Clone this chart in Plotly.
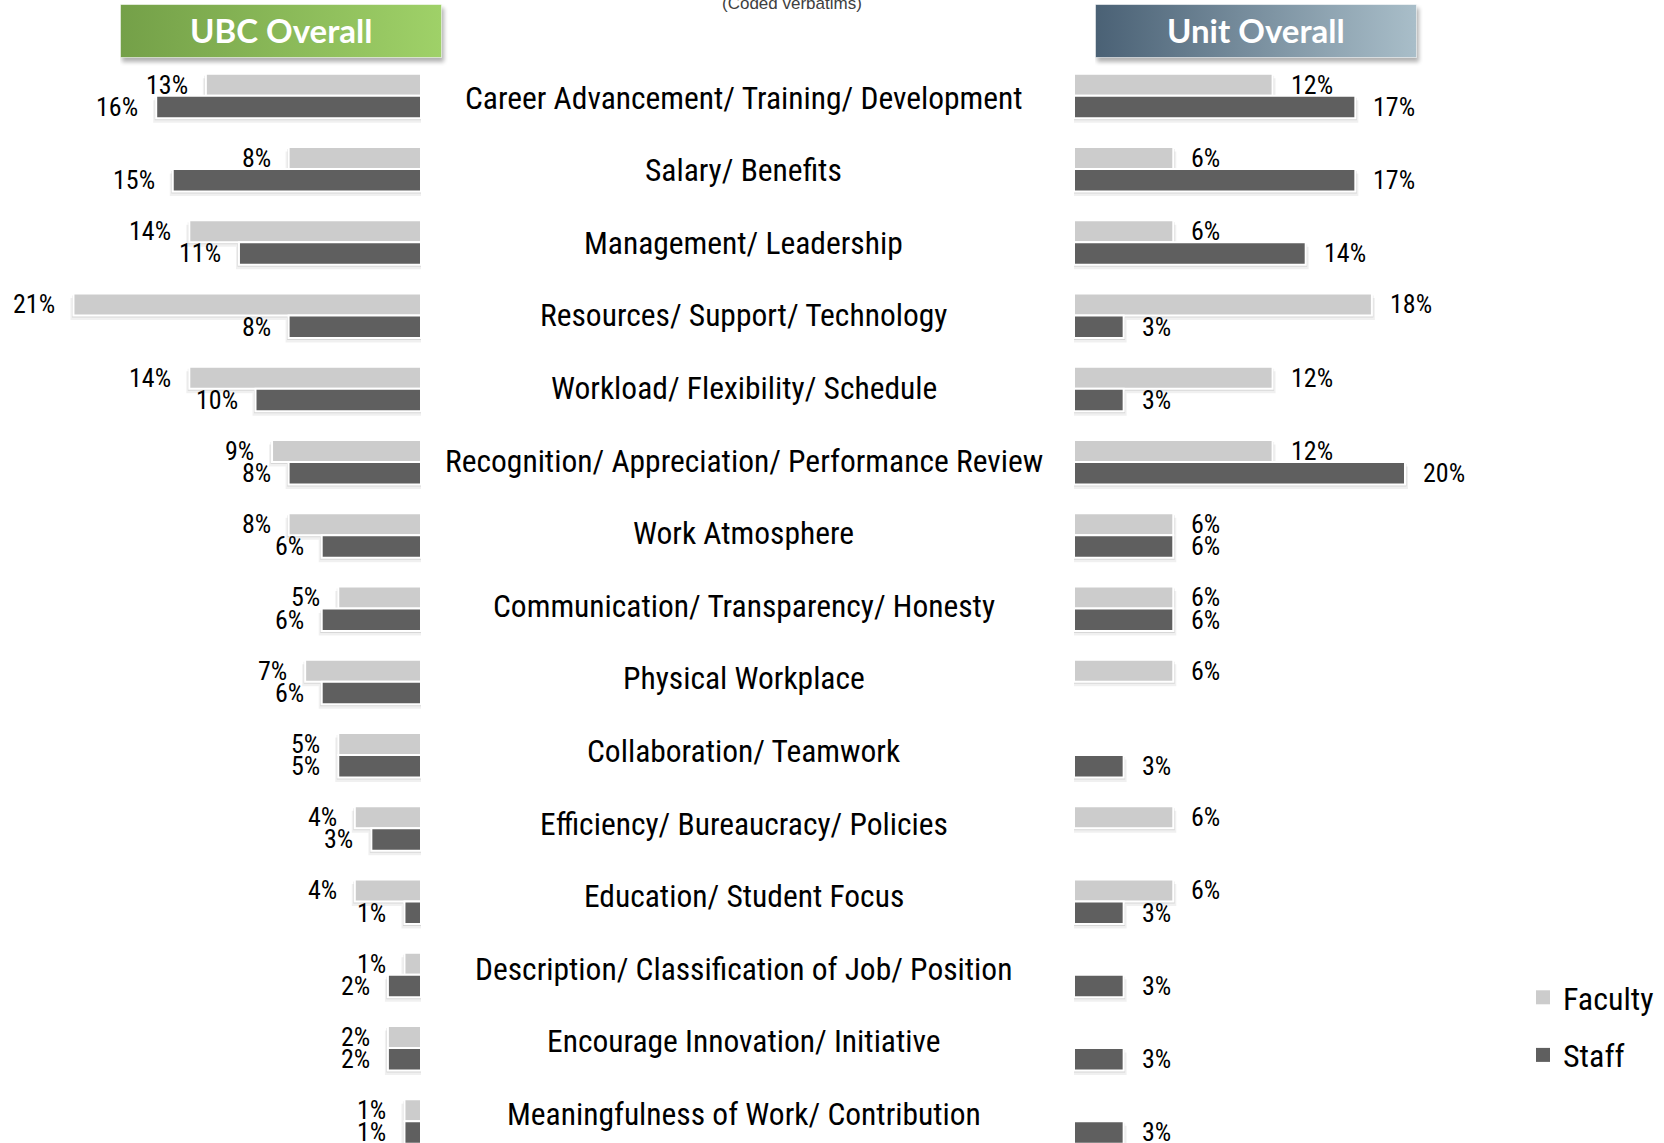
import base64
import plotly.graph_objects as go

# ---- data -------------------------------------------------------------
categories = [
    "Career Advancement/ Training/ Development",
    "Salary/ Benefits",
    "Management/ Leadership",
    "Resources/ Support/ Technology",
    "Workload/ Flexibility/ Schedule",
    "Recognition/ Appreciation/ Performance Review",
    "Work Atmosphere",
    "Communication/ Transparency/ Honesty",
    "Physical Workplace",
    "Collaboration/ Teamwork",
    "Efficiency/ Bureaucracy/ Policies",
    "Education/ Student Focus",
    "Description/ Classification of Job/ Position",
    "Encourage Innovation/ Initiative",
    "Meaningfulness of Work/ Contribution",
]
ubc_faculty = [13, 8, 14, 21, 14, 9, 8, 5, 7, 5, 4, 4, 1, 2, 1]
ubc_staff = [16, 15, 11, 8, 10, 8, 6, 6, 6, 5, 3, 1, 2, 2, 1]
unit_faculty = [12, 6, 6, 18, 12, 12, 6, 6, 6, None, 6, 6, None, None, None]
unit_staff = [17, 17, 14, 3, 3, 20, 6, 6, None, 3, None, 3, 3, 3, 3]

series_names = ["Faculty", "Staff"]
series_colors = ["#cccccc", "#5f5f5f"]
panel_titles = ["UBC Overall", "Unit Overall"]
subtitle = "(Coded verbatims)"

# ---- geometry -----------------------------------------------------------
W, H = 1664, 1143
PX_PER_PCT = 16.55
ROW_PX = 73.25
ROW0_PX = 96
LABEL_PITCH_PX = 72.6      # the centre labels sit on a slightly tighter pitch
LEFT_ZERO_PX = 421
RIGHT_ZERO_PX = 1074
LABEL_CENTER_PX = 743.5

NARROW = "Liberation Sans Narrow, Arial Narrow, Roboto Condensed, DejaVu Sans Condensed, sans-serif"

# bar slot within each category row (category units): offset, width
slots = [(-0.305, 0.300), (-0.004, 0.308)]

fig = go.Figure()

panels = [
    dict(xaxis="x", values=[ubc_faculty, ubc_staff], side="left"),
    dict(xaxis="x2", values=[unit_faculty, unit_staff], side="right"),
]

shadow_layers = [(2.0, 1.5, "rgba(0,0,0,0.10)"), (4.5, 3.0, "rgba(0,0,0,0.06)")]

annotations = []
for p in panels:
    # soft drop shadows under the bars
    for dy_px, ext_px, col in shadow_layers:
        ext = ext_px / PX_PER_PCT
        for (off, wid), vals in zip(slots, p["values"]):
            fig.add_trace(go.Bar(
                y=categories,
                x=[None if v is None else v + 2 * ext for v in vals],
                base=-ext,
                orientation="h",
                offset=off + dy_px / ROW_PX,
                width=wid,
                marker=dict(color=col, line=dict(width=0)),
                xaxis=p["xaxis"], yaxis="y",
                showlegend=False, hoverinfo="skip",
            ))
    # the bars themselves
    for k, ((off, wid), vals) in enumerate(zip(slots, p["values"])):
        fig.add_trace(go.Bar(
            y=categories,
            x=vals,
            orientation="h",
            offset=off,
            width=wid,
            name=series_names[k],
            legendgroup=series_names[k],
            showlegend=False,
            marker=dict(color=series_colors[k], line=dict(color="white", width=2)),
            xaxis=p["xaxis"], yaxis="y",
            hovertemplate="%{y}: %{x}%<extra>" + series_names[k] + "</extra>",
        ))
        # value labels just beyond the bar ends
        for i, v in enumerate(vals):
            if v is None:
                continue
            annotations.append(dict(
                x=v, y=i + off + wid / 2,
                xref=p["xaxis"], yref="y",
                text=f"{v}%", showarrow=False,
                xanchor="right" if p["side"] == "left" else "left",
                yanchor="middle",
                xshift=-16 if p["side"] == "left" else 16,
                font=dict(family=NARROW, size=26, color="#000000"),
            ))

# legend keys: plain squares for each series
for k, name in enumerate(series_names):
    fig.add_trace(go.Scatter(
        x=[None], y=[None], mode="markers", name=name, legendgroup=name,
        marker=dict(symbol="square", size=14, color=series_colors[k]),
        xaxis="x2", yaxis="y", showlegend=True, hoverinfo="skip",
    ))

# category names down the middle
for i, c in enumerate(categories):
    annotations.append(dict(
        x=LABEL_CENTER_PX / W, y=i, xref="paper", yref="y",
        text=c, showarrow=False, xanchor="center", yanchor="middle",
        yshift=-2 + i * (ROW_PX - LABEL_PITCH_PX),
        font=dict(family=NARROW, size=31.5, color="#000000"),
    ))


def header_image(c0, c1, w, h):
    svg = (
        f'<svg xmlns="http://www.w3.org/2000/svg" width="{w + 8}" height="{h + 8}" '
        f'viewBox="0 0 {w + 8} {h + 8}">'
        '<defs><linearGradient id="g" x1="0" x2="1" y1="0" y2="0">'
        f'<stop offset="0" stop-color="{c0}"/><stop offset="1" stop-color="{c1}"/>'
        '</linearGradient>'
        '<filter id="s" x="-10%" y="-20%" width="120%" height="160%">'
        '<feGaussianBlur stdDeviation="2"/></filter></defs>'
        f'<rect x="2" y="4" width="{w}" height="{h}" fill="#000" opacity="0.30" filter="url(#s)"/>'
        f'<rect x="0.5" y="0.5" width="{w - 1}" height="{h - 1}" fill="url(#g)" '
        'stroke="#ffffff" stroke-opacity="0.55" stroke-width="1"/>'
        '</svg>'
    )
    return "data:image/svg+xml;base64," + base64.b64encode(svg.encode()).decode()


headers = [
    dict(left=120, top=4, w=322, h=54, c0="#74a048", c1="#9fd168", title=panel_titles[0]),
    dict(left=1095, top=4, w=322, h=54, c0="#4a6175", c1="#a9bec9", title=panel_titles[1]),
]
images = []
for hd in headers:
    images.append(dict(
        source=header_image(hd["c0"], hd["c1"], hd["w"], hd["h"]),
        xref="paper", yref="paper",
        x=hd["left"] / W, y=1 - hd["top"] / H,
        sizex=(hd["w"] + 8) / W, sizey=(hd["h"] + 8) / H,
        xanchor="left", yanchor="top", sizing="stretch", layer="below",
    ))
    annotations.append(dict(
        x=(hd["left"] + hd["w"] / 2) / W, y=1 - (hd["top"] + hd["h"] / 2) / H,
        xref="paper", yref="paper", text=hd["title"], showarrow=False,
        xanchor="center", yanchor="middle", yshift=1,
        font=dict(family="Lato, Open Sans, sans-serif", size=33, color="#ffffff", weight="bold"),
    ))

annotations.append(dict(
    x=792 / W, y=1, xref="paper", yref="paper", text=subtitle, showarrow=False,
    xanchor="center", yanchor="middle", yshift=-3,
    font=dict(family="Liberation Sans, Arial, sans-serif", size=17, color="#404040"),
))

axis_off = dict(showgrid=False, zeroline=False, showticklabels=False, ticks="", showline=False, fixedrange=True)

fig.update_layout(
    width=W, height=H,
    margin=dict(l=0, r=0, t=0, b=0),
    paper_bgcolor="white", plot_bgcolor="rgba(0,0,0,0)",
    barmode="overlay",
    xaxis=dict(domain=[0, LEFT_ZERO_PX / W], range=[LEFT_ZERO_PX / PX_PER_PCT, 0], **axis_off),
    xaxis2=dict(domain=[RIGHT_ZERO_PX / W, 1], range=[0, (W - RIGHT_ZERO_PX) / PX_PER_PCT],
                anchor="y", **axis_off),
    yaxis=dict(type="category", categoryorder="array", categoryarray=categories,
               range=[(H - ROW0_PX) / ROW_PX, -ROW0_PX / ROW_PX], **axis_off),
    legend=dict(x=1523 / W, y=1 - 970 / H, xanchor="left", yanchor="top",
                font=dict(family=NARROW, size=32, color="#000000"),
                bgcolor="rgba(0,0,0,0)", tracegroupgap=13, traceorder="grouped"),
    annotations=annotations,
    images=images,
    showlegend=True,
)

fig.write_html("out.html")
